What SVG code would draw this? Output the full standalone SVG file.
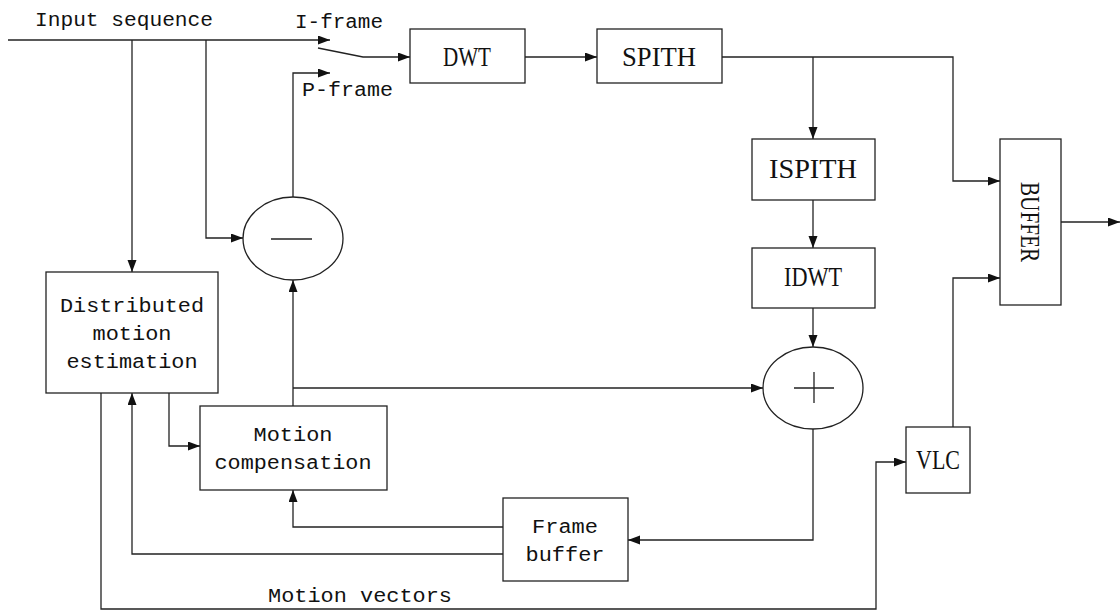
<svg xmlns="http://www.w3.org/2000/svg" width="1120" height="611" viewBox="0 0 1120 611">
<style>
.box{fill:#fff;stroke:#222;stroke-width:1.3}
.ln{fill:none;stroke:#222;stroke-width:1.3}
.t{font-family:"Liberation Mono",monospace;fill:#111;font-size:20px}
.b{font-family:"Liberation Serif",serif;fill:#111;font-size:27px;text-anchor:middle}
.c{text-anchor:middle}
</style>
<defs>
<marker id="ar" markerUnits="userSpaceOnUse" markerWidth="13" markerHeight="10" refX="12" refY="4.5" orient="auto">
<path d="M0,0 L12,4.5 L0,9 z" fill="#111"/>
</marker>
</defs>
<rect width="1120" height="611" fill="#fff"/>
<g id="connectors" class="ln" marker-end="url(#ar)">
<path d="M8,40 H330"/>
<path d="M132,40 V272"/>
<path d="M206,40 V238 H243"/>
<path d="M318,48 L363,57 H410"/>
<path d="M293,197 V73 H330"/>
<path d="M525,57 H597"/>
<path d="M722,57 H953 V181 H1000"/>
<path d="M813,57 V139"/>
<path d="M813,200 V248"/>
<path d="M813,308 V347"/>
<path d="M1061,222 H1120"/>
<path d="M953,427 V278 H1000"/>
<path d="M293,406 V280"/>
<path d="M293,388 H763"/>
<path d="M169,393 V446 H200"/>
<path d="M813,429 V540 H628"/>
<path d="M503,527 H293 V490"/>
<path d="M503,554 H132 V393"/>
<path d="M101,393 V609 H876 V462 H906"/>
</g>
<g id="labels">
<text class="t" x="35" y="26" textLength="178" lengthAdjust="spacingAndGlyphs">Input sequence</text>
<text class="t" x="295" y="28" textLength="88" lengthAdjust="spacingAndGlyphs">I-frame</text>
<text class="t" x="302" y="96" textLength="91" lengthAdjust="spacingAndGlyphs">P-frame</text>
<text class="t" x="268" y="602" textLength="184" lengthAdjust="spacingAndGlyphs">Motion vectors</text>
</g>
<g id="dwt"><rect class="box" x="410" y="29" width="115" height="54"/><text class="b" x="467" y="66" textLength="48" lengthAdjust="spacingAndGlyphs">DWT</text></g>
<g id="spith"><rect class="box" x="597" y="29" width="125" height="54"/><text class="b" x="659" y="66" textLength="74" lengthAdjust="spacingAndGlyphs">SPITH</text></g>
<g id="ispith"><rect class="box" x="752" y="139" width="123" height="61"/><text class="b" x="813" y="178" textLength="88" lengthAdjust="spacingAndGlyphs">ISPITH</text></g>
<g id="idwt"><rect class="box" x="752" y="248" width="123" height="60"/><text class="b" x="813" y="286" textLength="58" lengthAdjust="spacingAndGlyphs">IDWT</text></g>
<g id="buffer"><rect class="box" x="1000" y="139" width="61" height="166"/><text class="b" x="0" y="0" transform="translate(1021,222) rotate(90)" textLength="80" lengthAdjust="spacingAndGlyphs">BUFFER</text></g>
<g id="minus"><ellipse class="box" cx="293" cy="238.5" rx="50" ry="41.5"/><path class="ln" d="M271,239 H312"/></g>
<g id="plus"><ellipse class="box" cx="813" cy="388" rx="50" ry="41"/><path class="ln" d="M794,388 H834 M814,372 V403"/></g>
<g id="dme"><rect class="box" x="46" y="272" width="172" height="121"/>
<text class="t c" x="132" y="312" textLength="144" lengthAdjust="spacingAndGlyphs">Distributed</text>
<text class="t c" x="132" y="340" textLength="79" lengthAdjust="spacingAndGlyphs">motion</text>
<text class="t c" x="132" y="368" textLength="131" lengthAdjust="spacingAndGlyphs">estimation</text></g>
<g id="mc"><rect class="box" x="200" y="406" width="187" height="84"/>
<text class="t c" x="293" y="441" textLength="79" lengthAdjust="spacingAndGlyphs">Motion</text>
<text class="t c" x="293" y="469" textLength="157" lengthAdjust="spacingAndGlyphs">compensation</text></g>
<g id="fb"><rect class="box" x="503" y="498" width="125" height="83"/>
<text class="t c" x="565" y="533" textLength="66" lengthAdjust="spacingAndGlyphs">Frame</text>
<text class="t c" x="565" y="561" textLength="79" lengthAdjust="spacingAndGlyphs">buffer</text></g>
<g id="vlc"><rect class="box" x="906" y="427" width="64" height="66"/><text class="b" x="938" y="469" textLength="44" lengthAdjust="spacingAndGlyphs">VLC</text></g>
</svg>
